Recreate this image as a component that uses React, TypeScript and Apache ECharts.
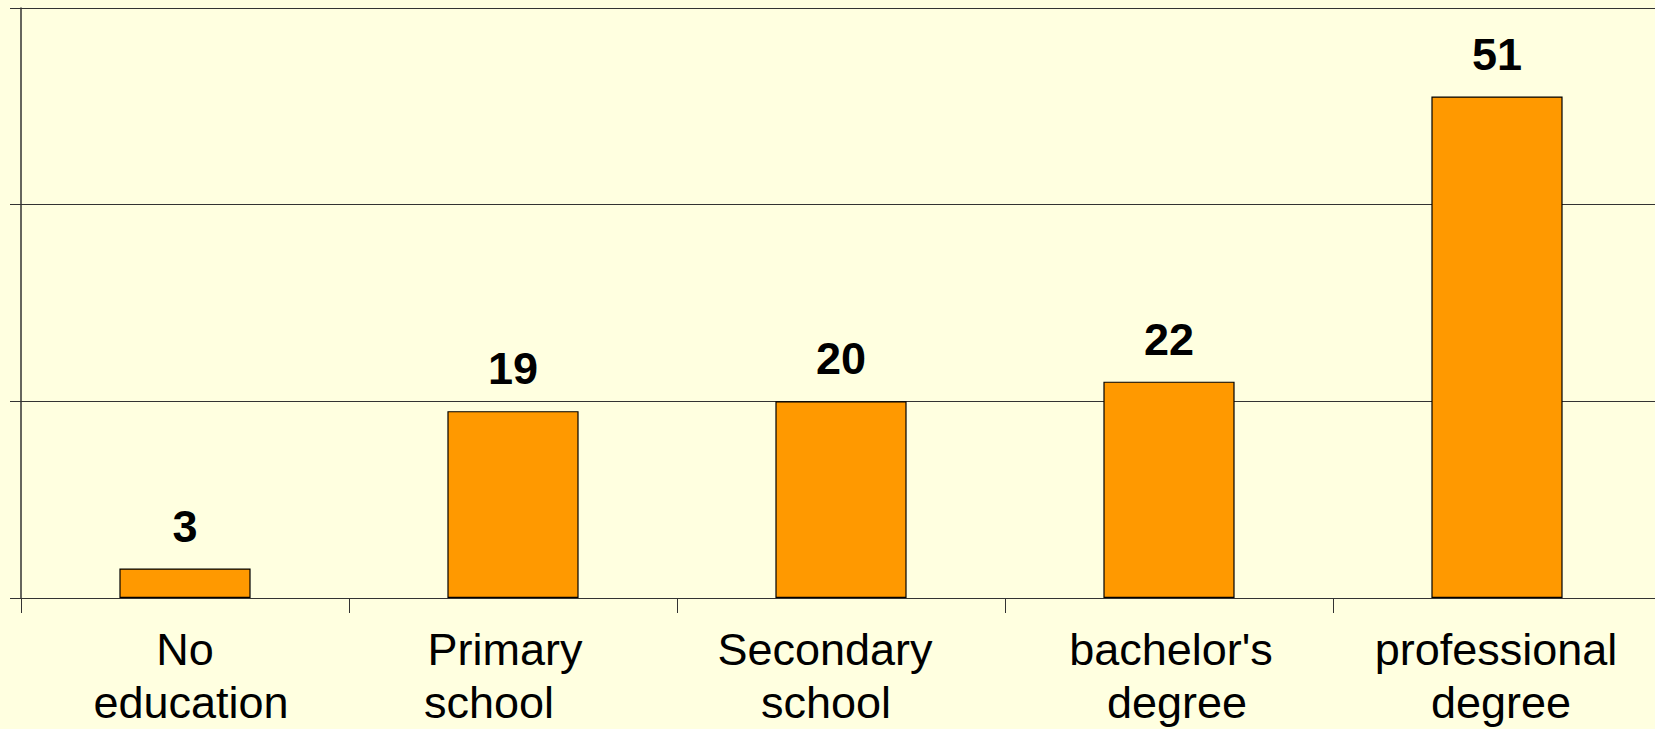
import React, { useEffect, useRef } from "react";
import * as echarts from "echarts";

const categories = ["No\neducation", "Primary\nschool", "Secondary\nschool", "bachelor's\ndegree", "professional\ndegree"];
const values = [3, 19, 20, 22, 51];

// horizontal nudge (px) of each label line, to mimic the original text wrapping
const lineShift = [
  [0, 6],
  [-8, -24],
  [-16, -15],
  [2, 8],
  [-1, 4],
];

const FONT = "'Liberation Sans', Arial, sans-serif";

function buildRich() {
  const rich: Record<string, any> = {};
  categories.forEach((c, i) => {
    c.split("\n").forEach((_, j) => {
      const d = (lineShift[i] && lineShift[i][j]) || 0;
      rich[`s${i}_${j}`] = {
        fontSize: 45,
        lineHeight: 53,
        fontFamily: FONT,
        color: "#000",
        align: "center",
        padding: [0, d < 0 ? -2 * d : 0, 0, d > 0 ? 2 * d : 0],
      };
    });
  });
  return rich;
}

export default function App() {
  const ref = useRef<HTMLDivElement>(null);
  useEffect(() => {
    if (!ref.current) return;
    const chart = echarts.init(ref.current, null, { renderer: "svg" });
    chart.setOption({
      animation: false,
      backgroundColor: "#FFFFE0",
      textStyle: { fontFamily: FONT },
      grid: { left: 21, top: 8, right: 0, bottom: 129, containLabel: false },
      xAxis: {
        type: "category",
        data: categories,
        axisLine: { show: true, lineStyle: { color: "#333", width: 1 } },
        axisTick: { show: true, length: 15, lineStyle: { color: "#333", width: 1 } },
        axisLabel: {
          color: "#000",
          fontSize: 45,
          lineHeight: 53,
          margin: 25,
          interval: 0,
          fontFamily: FONT,
          formatter: (value: string) => {
            const i = categories.indexOf(value);
            return value
              .split("\n")
              .map((line, j) => `{s${i}_${j}|${line}}`)
              .join("\n");
          },
          rich: buildRich(),
        },
        splitLine: { show: false },
      },
      yAxis: {
        type: "value",
        min: 0,
        max: 60,
        interval: 20,
        axisLabel: { show: false },
        axisLine: { show: true, lineStyle: { color: "#333", width: 1.5 } },
        axisTick: { show: true, length: 11, lineStyle: { color: "#333", width: 1 } },
        splitLine: { show: true, lineStyle: { color: "#333", width: 1 } },
      },
      series: [
        {
          type: "bar",
          data: values,
          barWidth: "40%",
          itemStyle: { color: "#FF9900", borderColor: "#000", borderWidth: 1.2 },
          label: {
            show: true,
            position: "top",
            distance: 20,
            color: "#000",
            fontSize: 45,
            fontWeight: "bold",
            fontFamily: FONT,
          },
        },
      ],
    });
    return () => chart.dispose();
  }, []);
  return (
    <div style={{ position: "fixed", left: 0, top: 0, width: 1655, height: 729, overflow: "hidden", background: "#FFFFE0" }}>
      <div ref={ref} style={{ width: 1661, height: 729 }} />
    </div>
  );
}
